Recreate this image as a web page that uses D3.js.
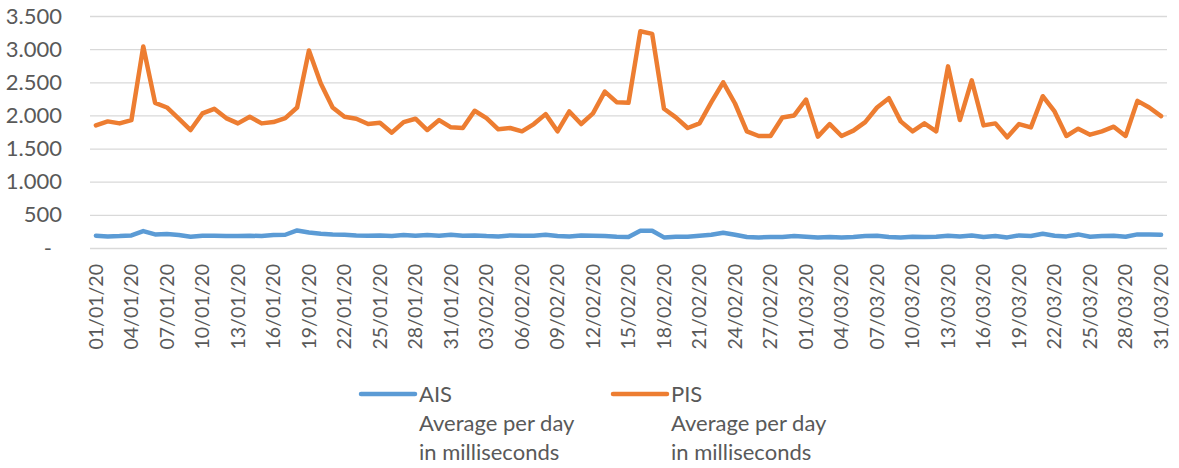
<!DOCTYPE html>
<html>
<head>
<meta charset="utf-8">
<script src="https://cdn.jsdelivr.net/npm/d3@7"></script>
<style>
  body { margin: 0; background: #fff; }
  text { font-family: Lato, "Open Sans", sans-serif; fill: #595959; }
</style>
</head>
<body>
<svg id="chart" width="1179" height="468"></svg>
<script>
// categories: one per day, 01/01/20 .. 31/03/20
const startDay = new Date(2020, 0, 1);
const endDay = new Date(2020, 3, 1);
const days = d3.timeDay.range(startDay, endDay);

// AIS - average per day in milliseconds
const ais = [185,175,180,190,255,205,210,195,170,185,185,180,180,185,180,195,200,265,235,215,205,200,190,
  185,190,180,195,185,195,185,200,185,190,180,175,190,185,185,200,180,175,190,185,180,170,165,
  260,260,160,170,170,185,200,230,200,165,160,165,165,180,170,160,165,160,165,180,185,
  165,160,170,165,170,185,175,190,165,180,160,190,180,215,185,175,205,170,180,185,170,205,205,200];

// PIS - average per day in milliseconds
const pis = [1850,1910,1880,1930,3040,2190,2120,1950,1780,2030,2100,1960,1880,1980,1880,1900,1960,2120,2980,2480,2120,1980,1950,
  1870,1890,1740,1900,1950,1780,1930,1820,1810,2070,1960,1790,1810,1760,1870,2020,1760,2060,1870,2030,2360,2200,2190,
  3270,3230,2100,1970,1810,1880,2200,2500,2180,1760,1690,1690,1970,2000,2240,1680,1870,1690,1770,1900,2120,
  2260,1910,1760,1880,1760,2740,1930,2530,1850,1880,1670,1870,1820,2290,2060,1690,1800,1710,1760,1830,1690,2220,2120,1990];

const yTicks = [0, 500, 1000, 1500, 2000, 2500, 3000, 3500];

const seriesNames = ["AIS", "PIS"];
const seriesColors = ["#5B9BD5", "#ED7D31"];

const svg = d3.select("#chart");
const margin = {left: 90, right: 1167, top: 16, bottom: 248};

const x = d3.scaleBand()
  .domain(days)
  .range([margin.left, margin.right])
  .padding(0);

const y = d3.scaleLinear()
  .domain([0, 3500])
  .range([margin.bottom, margin.top]);

const locale = d3.formatLocale({decimal: ",", thousands: ".", grouping: [3], currency: ["", ""]});
const fmt = locale.format(",");
const fmtDate = d3.timeFormat("%d/%m/%y");

// gridlines + y labels
const yAxis = svg.append("g")
  .attr("transform", `translate(${margin.left},0)`)
  .call(d3.axisLeft(y).tickValues(yTicks).tickSize(-(margin.right - margin.left)).tickPadding(28)
    .tickFormat(d => d === 0 ? "-" : fmt(d)));
yAxis.select(".domain").remove();
yAxis.selectAll(".tick line").attr("stroke", "#D9D9D9").attr("stroke-width", 1.3);
yAxis.selectAll(".tick text")
  .style("font-size", "22px")
  .attr("dx", d => d === 0 ? -10 : 0);

// x labels, every third day
const xAxis = svg.append("g")
  .attr("transform", `translate(0,${margin.bottom})`)
  .call(d3.axisBottom(x).tickValues(days.filter((d, i) => i % 3 === 0)).tickSize(0).tickFormat(fmtDate));
xAxis.select(".domain").remove();
xAxis.selectAll(".tick text")
  .style("font-size", "19.5px")
  .attr("text-anchor", "end")
  .attr("transform", "rotate(-90)")
  .attr("x", -16)
  .attr("y", 0)
  .attr("dy", "0.35em");

// lines
const line = d3.line()
  .x((d, i) => x(days[i]) + x.bandwidth() / 2)
  .y(d => y(d));

[ais, pis].forEach((vals, k) => {
  svg.append("path")
    .datum(vals)
    .attr("fill", "none")
    .attr("stroke", seriesColors[k])
    .attr("stroke-width", 4.5)
    .attr("stroke-linejoin", "round")
    .attr("stroke-linecap", "round")
    .attr("d", line);
});

// legend
const legendX = [361, 613];
seriesNames.forEach((name, k) => {
  const g = svg.append("g").attr("transform", `translate(${legendX[k]},394)`);
  g.append("line")
    .attr("x1", 0).attr("x2", 54)
    .attr("stroke", seriesColors[k])
    .attr("stroke-width", 4.5)
    .attr("stroke-linecap", "round");
  const t = g.append("text")
    .attr("x", 58)
    .attr("y", 0)
    .style("font-size", "22px");
  [name, "Average per day", "in milliseconds"].forEach((s, j) => {
    t.append("tspan").attr("x", 58).attr("dy", j === 0 ? "0.35em" : "29px").text(s);
  });
});
</script>
</body>
</html>
